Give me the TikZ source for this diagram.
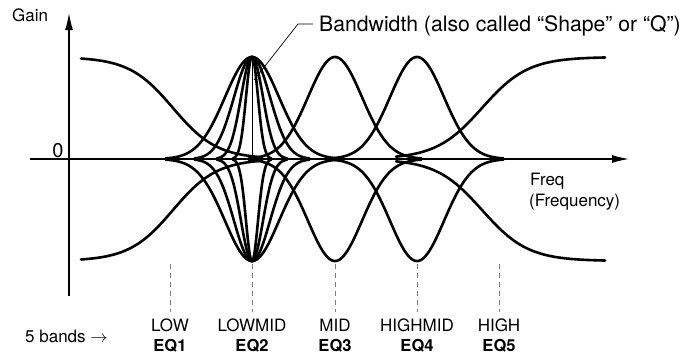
\documentclass[tikz,border=0pt]{standalone}
\usepackage{fontspec}
\setmainfont{TeX Gyre Heros}
\usetikzlibrary{arrows.meta}
\begin{document}
\begin{tikzpicture}[x=1pt,y=-1pt,
  curve/.style={line width=2.6pt, line join=round, line cap=round},
  axis/.style={line width=1.3pt, -{Latex[length=17pt,width=8pt]}},
  guide/.style={gray, line width=0.9pt, dash pattern=on 5pt off 4pt},
  leader/.style={line width=0.7pt},
  lbl/.style={inner sep=0pt, font=\fontsize{17}{20}\selectfont},
  eqlbl/.style={inner sep=0pt, font=\fontsize{16.5}{20}\selectfont\bfseries}]
\useasboundingbox (0,0) rectangle (682,356);

% bell curves (boost and cut)
\foreach \c/\s in {252/27,252/18,252/11,252/6,335/27,417/27}{
  \foreach \sg in {1,-1}{
    \draw[curve] plot[domain={\c-3.2*\s}:{\c+3.2*\s}, samples=120, smooth]
      (\x,{159-\sg*102*exp(-((\x-\c)*(\x-\c))/(2*\s*\s))});
  }
}
% shelves
\foreach \sg in {1,-1}{
  \draw[curve] plot[domain=81:262, samples=100, smooth]
    (\x,{159-\sg*102/(1+exp((\x-173)/22))});
  \draw[curve] plot[domain=396:605, samples=100, smooth]
    (\x,{159-\sg*102/(1+exp(-(\x-482)/23))});
}

% axes
\coordinate (xs) at (30,159);
\coordinate (xe) at (629,159);
\coordinate (ys) at (69,296);
\coordinate (ye) at (69,13);
\draw[axis] (xs) -- (xe);
\draw[axis] (ys) -- (ye);

% centre line of EQ2
\coordinate (cb) at (252,159);
\coordinate (ct) at (252,57);
\draw[line width=0.9pt] (cb) -- (ct);

% bandwidth leader
\node[inner sep=0pt, anchor=base west, font=\fontsize{21.2}{25}\selectfont] (bw) at (319,31)
  {Bandwidth (also called “Shape” or “Q”)};
\coordinate (l1) at (254,80);
\coordinate (l2) at (298,24);
\coordinate (l3) at (313,24);
\draw[leader] (l1) -- (l2) -- (l3);

% axis labels
\node[lbl, anchor=base west] (gain) at (12,21) {Gain};
\node[inner sep=0pt, anchor=base, font=\fontsize{20}{24}\selectfont] (zero) at (58,157) {0};
\node[lbl, anchor=base west] (freq) at (530,185) {Freq};
\node[lbl, anchor=base west] (freqlong) at (529,206) {(Frequency)};

% band guides and labels
\foreach \x/\n/\t/\e in {170/1/LOW/EQ1, 252/2/LOWMID/EQ2, 335/3/MID/EQ3, 417/4/HIGHMID/EQ4, 499/5/HIGH/EQ5}{
  \coordinate (g\n a) at (\x,264);
  \coordinate (g\n b) at (\x,312);
  \draw[guide] (g\n a) -- (g\n b);
  \node[lbl, anchor=base] (band\n) at (\x,331) {\t};
  \node[eqlbl, anchor=base] (eq\n) at (\x,351.5) {\e};
}
\node[lbl, anchor=base west] (bands) at (25,342) {5 bands $\rightarrow$};
\end{tikzpicture}
\end{document}
